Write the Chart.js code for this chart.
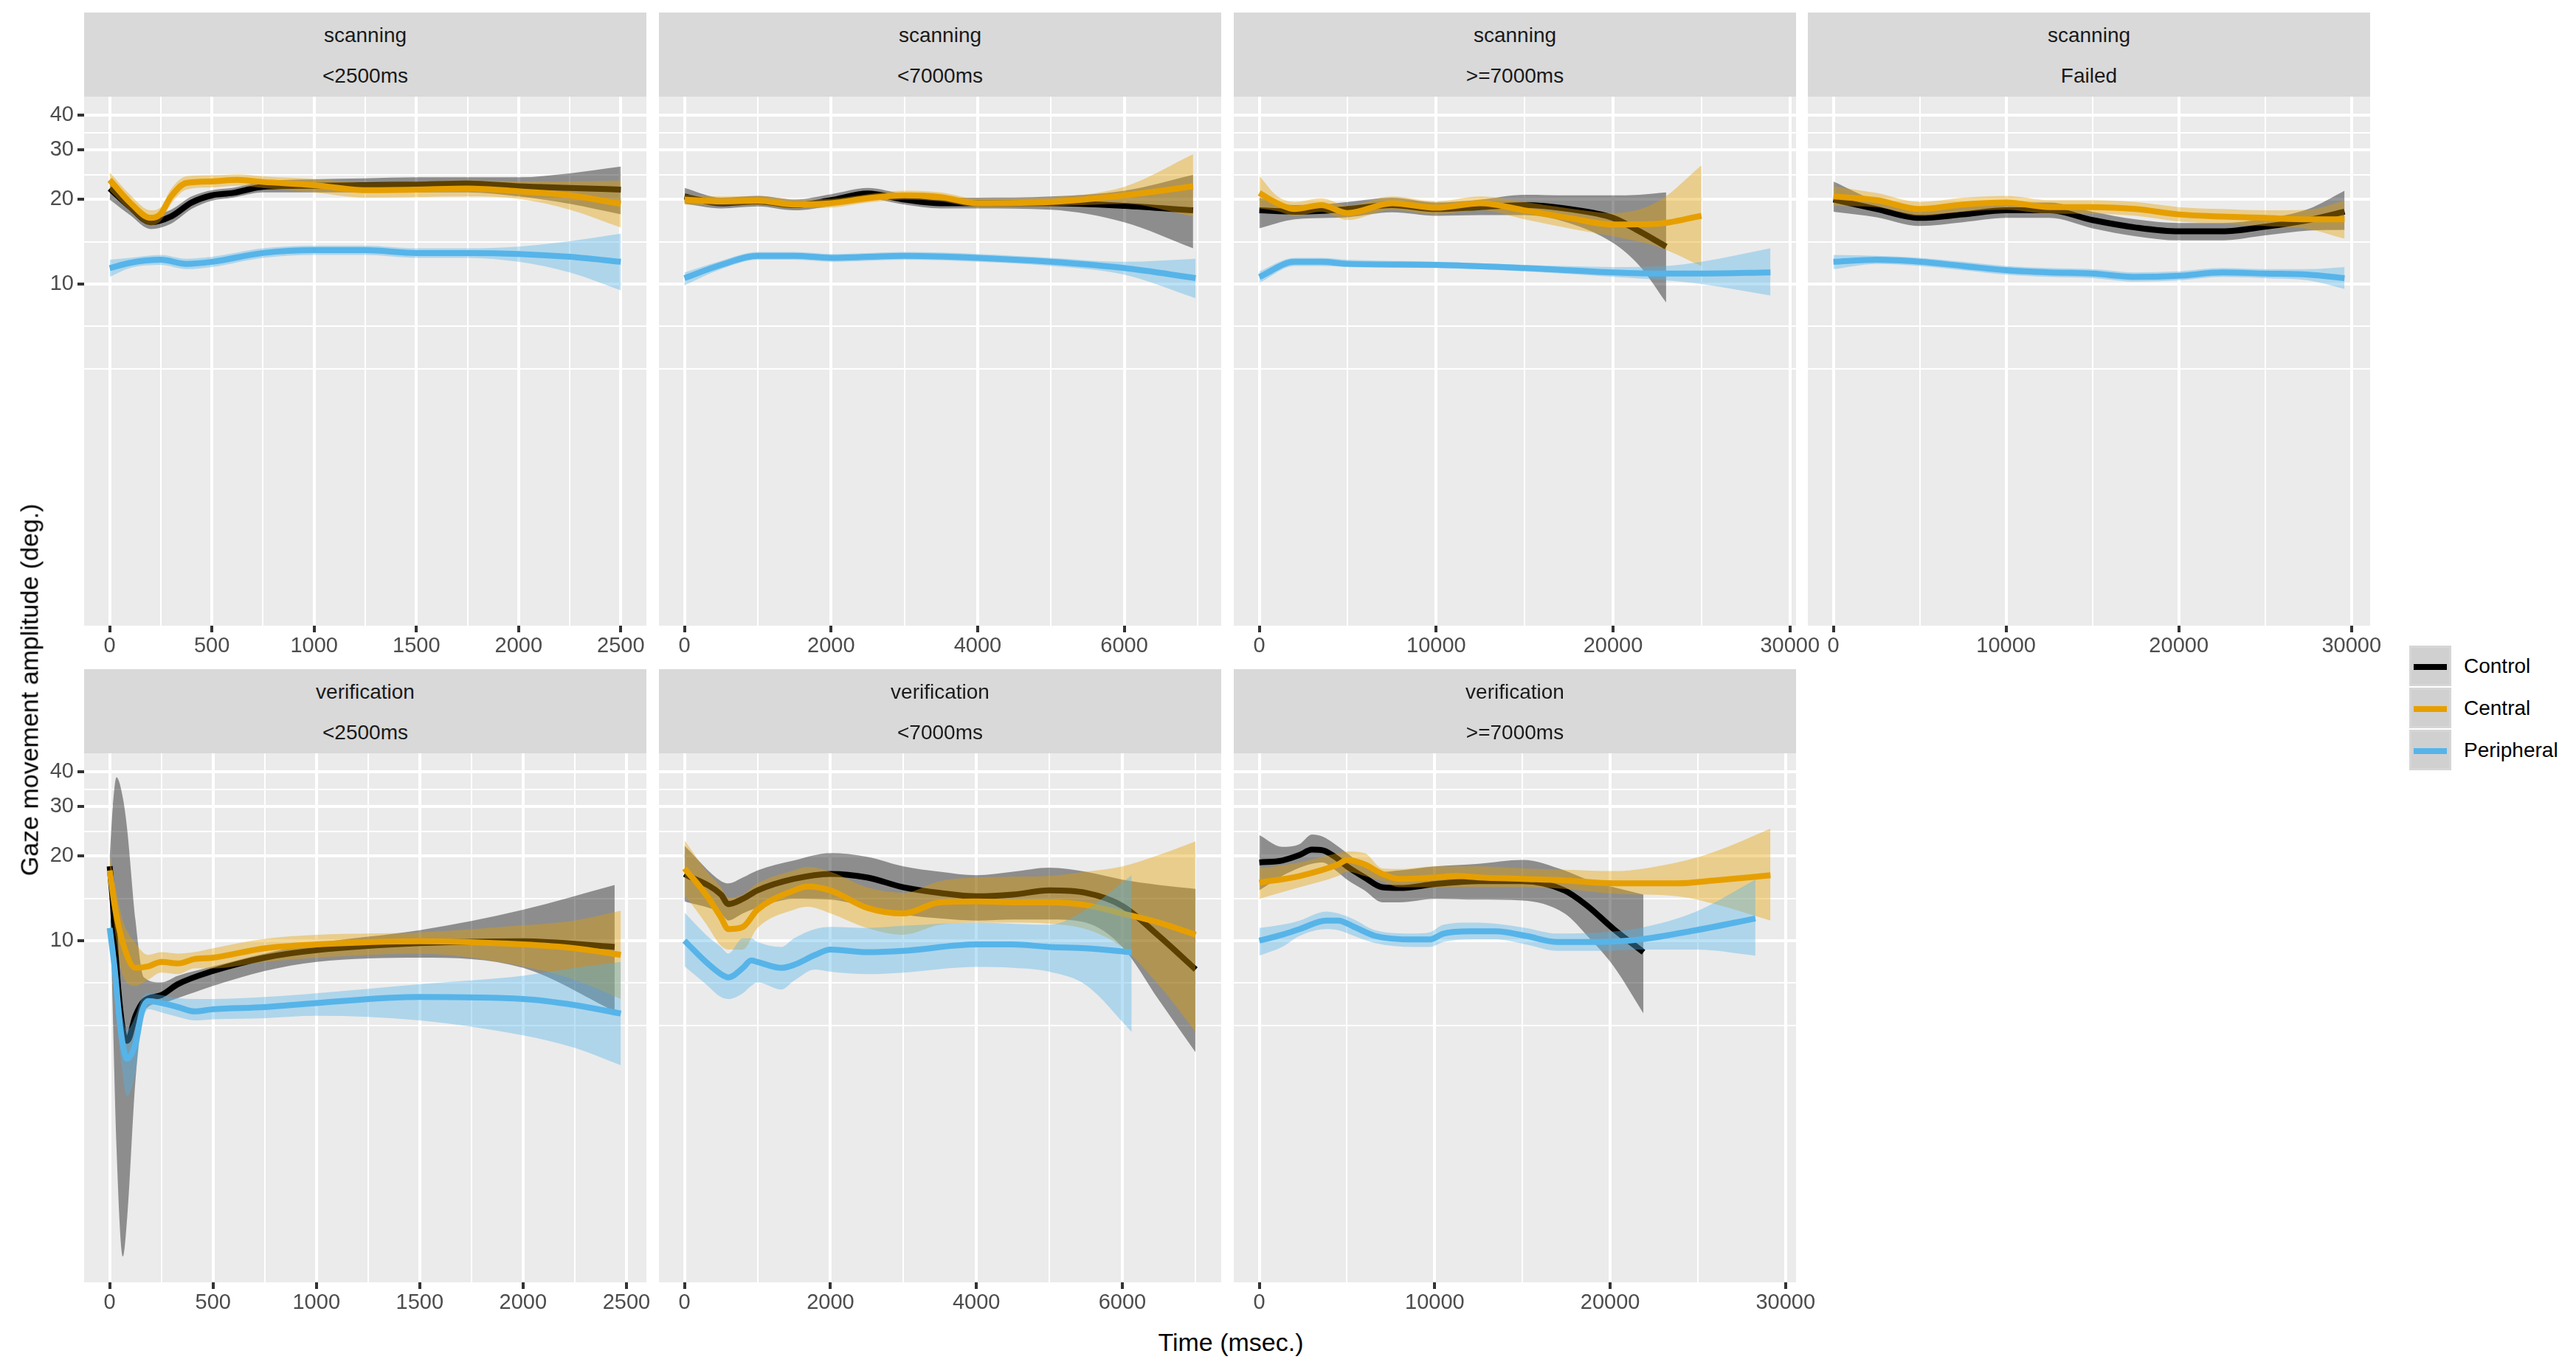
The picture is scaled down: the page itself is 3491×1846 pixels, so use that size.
<!DOCTYPE html>
<html>
<head>
<meta charset="utf-8">
<script src="https://cdn.jsdelivr.net/npm/chart.js@4.4.1/dist/chart.umd.min.js"></script>
<style>
  body { margin: 0; background: #fff; font-family: "Liberation Sans", Arial, sans-serif; }
  #fig { position: relative; width: 3491px; height: 1846px; overflow: hidden; background: #fff; }
  .strip { position: absolute; background: #d9d9d9; color: #1a1a1a; font-size: 28px; }
  .strip div { position: absolute; left: 0; right: 0; text-align: center; line-height: 28px; }
  .panel { position: absolute; }
  .title { position: absolute; color: #000; font-size: 34px; white-space: nowrap; }
  .key { position: absolute; left: 3265px; width: 57px; height: 55px; background: #d0d0d0; box-sizing: border-box; border: 3px solid #d6d6d6; }
  .key span { position: absolute; left: 3px; right: 3px; top: 22px; height: 8px; }
  .klab { position: absolute; left: 3339px; font-size: 28px; line-height: 28px; color: #000; }
</style>
</head>
<body>
<div id="fig"></div>
<script>
// --- gemeinsame Achsen ---
const yMajor = [10, 20, 30, 40];
const yMinor = [5, 7.07, 14.14, 24.49, 34.64];
const xMajorShort = [0, 500, 1000, 1500, 2000, 2500];
const xMinorShort = [250, 750, 1250, 1750, 2250];
const xMajorMid = [0, 2000, 4000, 6000];
const xMinorMid = [1000, 3000, 5000, 7000];
const xMajorLong = [0, 10000, 20000, 30000];
const xMinorLong = [5000, 15000, 25000];
const groupNames = ['Control', 'Central', 'Peripheral'];

// --- scanning <2500ms ---
const s25CtrlT = [0, 100, 200, 300, 400, 500, 600, 750, 1000, 1250, 1500, 1750, 2000, 2250, 2500];
const s25CtrlFit = [21.9, 18.8, 16.6, 17.4, 19.5, 20.7, 21.1, 22.2, 22.4, 22.5, 22.6, 22.8, 22.3, 22.0, 21.7];
const s25CtrlLo = [20.0, 17.6, 15.7, 16.4, 18.5, 19.8, 20.3, 21.2, 21.2, 21.2, 21.2, 21.2, 20.5, 19.3, 17.7];
const s25CtrlHi = [23.6, 20.0, 17.6, 18.4, 20.5, 21.6, 22.0, 23.2, 23.6, 23.8, 24.0, 24.0, 24.0, 24.8, 26.2];
const s25CentT = [0, 100, 200, 250, 300, 375, 500, 625, 750, 1000, 1250, 1500, 1750, 2000, 2250, 2500];
const s25CentFit = [23.5, 19.5, 17.2, 17.8, 20.5, 22.9, 23.2, 23.5, 23.1, 22.5, 21.6, 21.7, 21.9, 21.4, 20.7, 19.3];
const s25CentLo = [21.5, 18.2, 16.2, 16.8, 19.3, 21.7, 22.1, 22.4, 22.0, 21.2, 20.3, 20.4, 20.5, 20.1, 18.4, 15.9];
const s25CentHi = [25.0, 20.8, 18.3, 18.8, 21.8, 24.2, 24.4, 24.6, 24.2, 23.7, 23.0, 23.2, 23.4, 23.2, 23.2, 23.4];
const s25PeriT = [0, 100, 250, 375, 500, 750, 1000, 1250, 1500, 1750, 2000, 2250, 2500];
const s25PeriFit = [11.4, 11.9, 12.2, 11.8, 12.0, 12.9, 13.2, 13.2, 12.9, 12.9, 12.8, 12.5, 12.0];
const s25PeriLo = [10.6, 11.4, 11.7, 11.3, 11.5, 12.4, 12.7, 12.7, 12.4, 12.4, 12.0, 11.0, 9.5];
const s25PeriHi = [12.2, 12.4, 12.7, 12.3, 12.5, 13.4, 13.7, 13.7, 13.4, 13.4, 13.6, 14.2, 15.1];

// --- scanning <7000ms ---
const s70T = [0, 500, 1000, 1500, 2000, 2500, 3000, 3500, 4000, 5000, 6000, 6940];
const s70CtrlFit = [20.5, 19.4, 19.7, 19.1, 19.9, 21.0, 20.0, 19.4, 19.4, 19.4, 19.0, 18.3];
const s70CtrlLo = [19.3, 18.6, 18.9, 18.3, 19.0, 20.1, 19.2, 18.6, 18.6, 18.4, 16.6, 13.4];
const s70CtrlHi = [22.0, 20.3, 20.6, 20.0, 20.9, 22.0, 20.9, 20.3, 20.3, 20.5, 21.5, 24.5];
const s70CentFit = [20.0, 19.7, 19.8, 19.2, 19.4, 20.2, 20.7, 20.4, 19.4, 19.6, 20.7, 22.3];
const s70CentLo = [19.2, 19.0, 19.1, 18.6, 18.7, 19.5, 20.0, 19.7, 18.8, 18.9, 19.3, 17.4];
const s70CentHi = [20.9, 20.5, 20.6, 20.0, 20.1, 20.9, 21.5, 21.2, 20.1, 20.4, 22.2, 29.0];
const s70PeriT = [0, 500, 1000, 1500, 2000, 2500, 3000, 4000, 5000, 6000, 6975];
const s70PeriFit = [10.5, 11.7, 12.6, 12.6, 12.4, 12.5, 12.6, 12.4, 12.0, 11.4, 10.5];
const s70PeriLo = [9.9, 11.3, 12.2, 12.2, 12.0, 12.1, 12.2, 12.0, 11.6, 10.8, 8.9];
const s70PeriHi = [11.0, 12.1, 13.0, 13.0, 12.8, 12.9, 13.0, 12.8, 12.4, 12.0, 12.3];

// --- scanning >=7000ms ---
const s7pCtrlT = [0, 2000, 4000, 5000, 7500, 10000, 12500, 15000, 17500, 20000, 21500, 23000];
const s7pCtrlFit = [18.3, 18.1, 18.3, 18.5, 19.1, 18.5, 18.8, 19.1, 18.5, 17.2, 15.4, 13.6];
const s7pCtrlLo = [15.8, 17.0, 17.2, 17.3, 18.0, 17.5, 17.6, 17.6, 16.5, 14.0, 11.6, 8.6];
const s7pCtrlHi = [20.3, 19.1, 19.3, 19.6, 20.3, 19.5, 20.0, 20.8, 20.7, 20.7, 20.8, 21.2];
const s7pCentT = [0, 1000, 2000, 3500, 5000, 7500, 10000, 12500, 15000, 17500, 20000, 22500, 25000];
const s7pCentFit = [21.1, 19.4, 18.5, 19.1, 17.9, 19.4, 18.7, 19.4, 18.3, 17.2, 16.3, 16.4, 17.5];
const s7pCentLo = [18.6, 18.2, 17.5, 18.1, 16.9, 18.4, 17.7, 18.3, 17.0, 15.8, 14.8, 13.6, 11.6];
const s7pCentHi = [24.3, 20.6, 19.6, 20.2, 19.0, 20.5, 19.7, 20.5, 19.6, 18.6, 17.9, 19.6, 26.5];
const s7pPeriT = [0, 2000, 3500, 5000, 10000, 15000, 20000, 23000, 25000, 28900];
const s7pPeriFit = [10.6, 12.0, 12.0, 11.8, 11.7, 11.4, 11.0, 10.9, 10.9, 11.0];
const s7pPeriLo = [10.1, 11.6, 11.6, 11.5, 11.4, 11.1, 10.6, 10.3, 10.0, 9.1];
const s7pPeriHi = [11.1, 12.4, 12.4, 12.2, 12.0, 11.7, 11.5, 11.6, 12.0, 13.4];

// --- scanning Failed ---
const sFT = [0, 2500, 5000, 7500, 10000, 12500, 15000, 17500, 20000, 22500, 25000, 27500, 29600];
const sFCtrlFit = [20.0, 18.5, 17.2, 17.7, 18.3, 18.3, 16.9, 15.9, 15.4, 15.4, 16.0, 16.9, 18.1];
const sFCtrlLo = [18.1, 17.3, 16.1, 16.6, 17.2, 17.2, 15.8, 14.8, 14.3, 14.3, 14.9, 15.5, 15.6];
const sFCtrlHi = [23.2, 19.8, 18.4, 18.9, 19.5, 19.5, 18.1, 17.0, 16.5, 16.5, 17.1, 18.5, 21.5];
const sFCentFit = [20.5, 19.9, 18.5, 19.2, 19.5, 18.8, 18.8, 18.5, 17.7, 17.4, 17.2, 17.0, 17.0];
const sFCentLo = [19.0, 18.8, 17.5, 18.1, 18.4, 17.8, 17.8, 17.5, 16.7, 16.4, 16.1, 15.7, 14.5];
const sFCentHi = [22.3, 21.1, 19.6, 20.3, 20.6, 19.9, 19.9, 19.6, 18.8, 18.5, 18.3, 18.4, 19.8];
const sFPeriFit = [12.0, 12.2, 12.0, 11.6, 11.2, 11.0, 10.9, 10.6, 10.7, 11.0, 10.9, 10.8, 10.5];
const sFPeriLo = [11.3, 11.8, 11.6, 11.2, 10.8, 10.6, 10.5, 10.2, 10.3, 10.6, 10.5, 10.3, 9.6];
const sFPeriHi = [12.7, 12.6, 12.4, 12.0, 11.6, 11.4, 11.3, 11.0, 11.1, 11.4, 11.3, 11.3, 11.5];

// --- verification <2500ms ---
const v25CtrlT = [0, 15, 33, 64, 85, 125, 166, 250, 330, 500, 750, 1000, 1500, 2000, 2443];
const v25CtrlFit = [18.4, 13.7, 8.1, 4.8, 4.4, 5.4, 6.1, 6.4, 7.0, 7.8, 8.7, 9.25, 9.8, 9.95, 9.5];
const v25CtrlLo = [17.1, 5.6, 1.83, 0.75, 1.04, 3.2, 5.6, 6.0, 6.25, 6.9, 7.8, 8.4, 8.7, 8.0, 5.6];
const v25CtrlHi = [19.9, 29.9, 38.2, 32.2, 24.8, 11.8, 7.4, 7.1, 7.5, 8.1, 9.0, 9.8, 10.9, 12.9, 15.8];
const v25CentT = [0, 25, 64, 125, 185, 250, 330, 410, 500, 750, 1000, 1500, 2000, 2250, 2473];
const v25CentFit = [17.8, 13.2, 9.8, 8.0, 8.1, 8.4, 8.3, 8.6, 8.7, 9.4, 9.7, 9.96, 9.7, 9.4, 8.9];
const v25CentLo = [15.9, 10.9, 7.5, 6.9, 7.25, 7.7, 7.6, 7.97, 7.97, 8.4, 8.7, 9.0, 8.1, 7.25, 6.2];
const v25CentHi = [19.9, 15.9, 11.8, 9.8, 8.9, 9.1, 9.0, 9.1, 9.4, 10.15, 10.5, 10.7, 11.35, 11.8, 12.8];
const v25PeriT = [0, 23, 53, 84, 125, 156, 187, 250, 330, 410, 500, 750, 1000, 1500, 2000, 2250, 2473];
const v25PeriFit = [11.1, 8.1, 4.8, 3.8, 4.3, 5.6, 6.1, 6.0, 5.8, 5.6, 5.7, 5.8, 6.0, 6.3, 6.2, 5.9, 5.5];
const v25PeriLo = [10.15, 6.5, 3.85, 2.8, 3.4, 5.0, 5.7, 5.55, 5.35, 5.2, 5.25, 5.3, 5.4, 5.2, 4.6, 4.15, 3.6];
const v25PeriHi = [12.2, 9.8, 6.0, 4.8, 5.4, 6.25, 6.5, 6.4, 6.25, 6.2, 6.2, 6.3, 6.5, 7.0, 7.5, 8.0, 8.4];

// --- verification <7000ms ---
const v70CtrlT = [0, 500, 600, 800, 1000, 1500, 2000, 2500, 3000, 3500, 4000, 4500, 5000, 5500, 6000, 6500, 7005];
const v70CtrlFit = [17.3, 14.6, 13.5, 14.1, 15.1, 16.6, 17.3, 16.8, 15.5, 14.8, 14.4, 14.6, 15.1, 14.8, 13.3, 10.4, 7.9];
const v70CtrlLo = [13.8, 12.5, 11.8, 12.5, 13.1, 14.1, 14.0, 13.2, 12.4, 12.0, 11.8, 11.9, 11.9, 11.6, 9.5, 6.15, 4.0];
const v70CtrlHi = [21.8, 16.3, 16.0, 16.8, 17.8, 19.3, 20.5, 19.9, 18.4, 17.6, 17.1, 17.6, 18.2, 17.6, 16.5, 15.8, 15.3];
const v70CentT = [0, 294, 500, 600, 800, 1000, 1500, 1690, 2000, 2500, 3000, 3500, 4000, 4500, 5000, 5500, 6000, 6500, 7005];
const v70CentFit = [18.1, 14.6, 12.1, 11.0, 11.2, 12.9, 15.1, 15.6, 15.1, 13.1, 12.5, 13.7, 13.8, 13.7, 13.7, 13.4, 12.5, 11.6, 10.5];
const v70CentLo = [14.6, 11.5, 9.6, 9.3, 9.3, 11.1, 12.9, 13.2, 12.5, 11.1, 10.5, 11.4, 11.6, 11.6, 11.5, 11.0, 9.47, 6.95, 4.73];
const v70CentHi = [22.8, 17.8, 15.5, 14.2, 14.6, 16.0, 17.8, 18.3, 17.6, 15.5, 14.8, 16.3, 16.8, 16.9, 17.0, 17.6, 18.4, 20.2, 22.6];
const v70PeriT = [0, 294, 500, 600, 800, 914, 1000, 1327, 1500, 1790, 2000, 2500, 3000, 4000, 4500, 5000, 5500, 6128];
const v70PeriFit = [10.0, 8.4, 7.6, 7.4, 8.0, 8.5, 8.4, 8.0, 8.2, 8.9, 9.3, 9.1, 9.2, 9.7, 9.7, 9.5, 9.4, 9.1];
const v70PeriLo = [8.1, 7.0, 6.3, 6.2, 6.5, 6.9, 7.1, 6.7, 7.2, 7.9, 7.75, 7.6, 7.7, 8.06, 8.0, 7.75, 6.95, 4.73];
const v70PeriHi = [12.6, 10.5, 9.5, 9.0, 10.2, 10.2, 9.9, 9.5, 10.2, 11.0, 11.2, 11.1, 11.3, 11.6, 11.5, 11.4, 12.9, 17.1];

// --- verification >=7000ms ---
const v7pCtrlT = [0, 1300, 2300, 3000, 3600, 4300, 5000, 6000, 7000, 8000, 10000, 12500, 15000, 17400, 18700, 20200, 21900];
const v7pCtrlFit = [19.0, 19.3, 20.2, 21.1, 21.0, 19.9, 18.4, 16.8, 15.5, 15.4, 15.9, 16.3, 16.3, 15.1, 13.3, 11.0, 9.1];
const v7pCtrlLo = [15.1, 17.0, 18.2, 18.8, 19.0, 17.9, 16.5, 15.1, 13.7, 13.7, 14.1, 14.0, 13.9, 12.5, 10.4, 8.1, 5.5];
const v7pCtrlHi = [23.8, 21.6, 22.1, 23.9, 23.5, 22.1, 20.5, 18.4, 17.6, 17.8, 18.4, 18.8, 19.4, 17.8, 16.5, 15.5, 14.6];
const v7pCentT = [0, 2300, 4500, 5000, 6000, 7000, 8000, 10000, 11200, 12500, 15000, 17400, 20200, 23800, 26000, 29140];
const v7pCentFit = [16.1, 17.0, 18.7, 19.4, 18.7, 17.3, 16.6, 16.8, 17.0, 16.8, 16.6, 16.4, 16.0, 16.0, 16.4, 17.1];
const v7pCentLo = [14.1, 15.5, 17.0, 17.6, 17.0, 16.3, 15.5, 15.5, 15.5, 15.5, 15.5, 15.3, 14.7, 14.4, 13.5, 11.8];
const v7pCentHi = [18.1, 19.0, 20.5, 20.8, 20.5, 18.1, 18.0, 18.4, 18.4, 18.4, 18.1, 17.9, 17.7, 19.0, 20.8, 25.1];
const v7pPeriT = [0, 1300, 2300, 3800, 4500, 5400, 6600, 8800, 9700, 10500, 12000, 13500, 15200, 17000, 19500, 21700, 24900, 28280];
const v7pPeriFit = [10.0, 10.5, 11.0, 11.8, 11.8, 11.2, 10.4, 10.1, 10.1, 10.6, 10.8, 10.8, 10.4, 9.9, 9.9, 10.1, 10.9, 12.0];
const v7pPeriLo = [8.85, 9.5, 10.4, 11.0, 10.9, 10.4, 9.8, 9.5, 9.5, 9.9, 10.1, 10.1, 9.7, 9.2, 9.2, 9.3, 9.3, 8.85];
const v7pPeriHi = [11.1, 11.4, 11.8, 12.7, 12.5, 11.9, 10.9, 10.6, 10.7, 11.4, 11.6, 11.5, 11.1, 10.6, 10.7, 11.1, 12.7, 16.5];

// Panels: [Zeit, Fit, unten, oben] je Gruppe
const panels = [
  { row: 0, col: 0, strip: ['scanning', '<2500ms'], major: xMajorShort, minor: xMinorShort,
    groups: [[s25CtrlT, s25CtrlFit, s25CtrlLo, s25CtrlHi], [s25CentT, s25CentFit, s25CentLo, s25CentHi], [s25PeriT, s25PeriFit, s25PeriLo, s25PeriHi]] },
  { row: 0, col: 1, strip: ['scanning', '<7000ms'], major: xMajorMid, minor: xMinorMid,
    groups: [[s70T, s70CtrlFit, s70CtrlLo, s70CtrlHi], [s70T, s70CentFit, s70CentLo, s70CentHi], [s70PeriT, s70PeriFit, s70PeriLo, s70PeriHi]] },
  { row: 0, col: 2, strip: ['scanning', '>=7000ms'], major: xMajorLong, minor: xMinorLong,
    groups: [[s7pCtrlT, s7pCtrlFit, s7pCtrlLo, s7pCtrlHi], [s7pCentT, s7pCentFit, s7pCentLo, s7pCentHi], [s7pPeriT, s7pPeriFit, s7pPeriLo, s7pPeriHi]] },
  { row: 0, col: 3, strip: ['scanning', 'Failed'], major: xMajorLong, minor: xMinorLong,
    groups: [[sFT, sFCtrlFit, sFCtrlLo, sFCtrlHi], [sFT, sFCentFit, sFCentLo, sFCentHi], [sFT, sFPeriFit, sFPeriLo, sFPeriHi]] },
  { row: 1, col: 0, strip: ['verification', '<2500ms'], major: xMajorShort, minor: xMinorShort,
    groups: [[v25CtrlT, v25CtrlFit, v25CtrlLo, v25CtrlHi], [v25CentT, v25CentFit, v25CentLo, v25CentHi], [v25PeriT, v25PeriFit, v25PeriLo, v25PeriHi]] },
  { row: 1, col: 1, strip: ['verification', '<7000ms'], major: xMajorMid, minor: xMinorMid,
    groups: [[v70CtrlT, v70CtrlFit, v70CtrlLo, v70CtrlHi], [v70CentT, v70CentFit, v70CentLo, v70CentHi], [v70PeriT, v70PeriFit, v70PeriLo, v70PeriHi]] },
  { row: 1, col: 2, strip: ['verification', '>=7000ms'], major: xMajorLong, minor: xMinorLong,
    groups: [[v7pCtrlT, v7pCtrlFit, v7pCtrlLo, v7pCtrlHi], [v7pCentT, v7pCentFit, v7pCentLo, v7pCentHi], [v7pPeriT, v7pPeriFit, v7pPeriLo, v7pPeriHi]] }
];

// Layout (Pixel)
const colLeft = [114, 893, 1672, 2450];
const rowTop = [131, 1021];
const panelW = 762, panelH = 717, stripH = 114;
const yAxisW = 114, xAxisH = 62, padR = 50;
const yMin = 0.607, yMax = 46.5;
const lineColors = ['#000000', '#E69F00', '#56B4E9'];
const fillColors = ['rgba(0,0,0,0.4)', 'rgba(230,159,0,0.4)', 'rgba(86,180,233,0.4)'];
const fontFam = '"Liberation Sans", Arial, sans-serif';
const gridMajorW = 4, gridMinorW = 2, smoothW = 8;

Chart.defaults.font.family = fontFam;

const panelBg = {
  id: 'panelBg',
  beforeDraw(chart) {
    const a = chart.chartArea, c = chart.ctx;
    c.save();
    c.fillStyle = '#ebebeb';
    c.fillRect(a.left, a.top, a.right - a.left, a.bottom - a.top);
    c.restore();
  }
};

const fig = document.getElementById('fig');

function pts(t, v) {
  return t.map((x, i) => ({ x: x, y: v[i] }));
}

panels.forEach(p => {
  const left = colLeft[p.col], top = rowTop[p.row];
  const isLeft = p.col === 0;

  // Streifen oben
  const strip = document.createElement('div');
  strip.className = 'strip';
  strip.style.left = left + 'px';
  strip.style.top = (top - stripH) + 'px';
  strip.style.width = panelW + 'px';
  strip.style.height = stripH + 'px';
  strip.innerHTML = '<div style="top:17px"></div><div style="top:72px"></div>';
  strip.children[0].textContent = p.strip[0];
  strip.children[1].textContent = p.strip[1];
  fig.appendChild(strip);

  const yw = isLeft ? yAxisW : 0;
  const box = document.createElement('div');
  box.className = 'panel';
  box.style.left = (left - yw) + 'px';
  box.style.top = top + 'px';
  box.style.width = (yw + panelW + padR) + 'px';
  box.style.height = (panelH + xAxisH) + 'px';
  const cv = document.createElement('canvas');
  box.appendChild(cv);
  fig.appendChild(box);

  const tMax = Math.max(...p.groups.map(g => Math.max(...g[0])));
  const datasets = [];
  p.groups.forEach((g, i) => {
    const base = 10 * (3 - i);
    datasets.push({ label: groupNames[i] + ' lo', data: pts(g[0], g[2]), borderWidth: 0, borderColor: 'transparent',
      pointRadius: 0, fill: false, cubicInterpolationMode: 'monotone', order: base + 2 });
    datasets.push({ label: groupNames[i] + ' band', data: pts(g[0], g[3]), borderWidth: 0, borderColor: 'transparent',
      pointRadius: 0, fill: '-1', backgroundColor: fillColors[i], cubicInterpolationMode: 'monotone', order: base + 1 });
    datasets.push({ label: groupNames[i], data: pts(g[0], g[1]), borderColor: lineColors[i], borderWidth: smoothW,
      borderCapStyle: 'butt', pointRadius: 0, fill: false, cubicInterpolationMode: 'monotone', order: base });
  });

  const xAll = p.major.concat(p.minor);
  const yAll = yMajor.concat(yMinor);

  new Chart(cv, {
    type: 'line',
    data: { datasets: datasets },
    plugins: [panelBg],
    options: {
      responsive: true,
      maintainAspectRatio: false,
      animation: false,
      layout: { padding: { left: 0, right: padR, top: 0, bottom: 0 } },
      plugins: { legend: { display: false }, tooltip: { enabled: false } },
      scales: {
        x: {
          type: 'linear',
          bounds: 'data',
          min: -0.05 * tMax,
          max: 1.05 * tMax,
          afterBuildTicks: s => {
            s.ticks = xAll.filter(v => v >= s.min && v <= s.max).sort((a, b) => a - b).map(v => ({ value: v }));
          },
          afterFit: s => { s.height = xAxisH; s.paddingLeft = 0; s.paddingRight = 0; },
          grid: {
            color: '#ffffff',
            lineWidth: c => p.major.includes(c.tick.value) ? gridMajorW : gridMinorW,
            tickColor: c => p.major.includes(c.tick.value) ? '#333333' : 'rgba(0,0,0,0)',
            tickWidth: gridMajorW,
            tickLength: 9
          },
          border: { display: false },
          ticks: {
            autoSkip: false, maxRotation: 0, padding: 2, color: '#4d4d4d',
            font: { family: fontFam, size: 29 },
            callback: v => p.major.includes(v) ? String(v) : ''
          }
        },
        y: {
          type: 'logarithmic',
          bounds: 'data',
          min: yMin,
          max: yMax,
          afterBuildTicks: s => {
            s.ticks = yAll.slice().sort((a, b) => a - b).map(v => ({ value: v }));
          },
          afterFit: s => { s.width = yw; s.paddingTop = 0; s.paddingBottom = 0; },
          grid: {
            color: '#ffffff',
            lineWidth: c => yMajor.includes(c.tick.value) ? gridMajorW : gridMinorW,
            drawTicks: isLeft,
            tickColor: c => yMajor.includes(c.tick.value) ? '#333333' : 'rgba(0,0,0,0)',
            tickWidth: gridMajorW,
            tickLength: 9
          },
          border: { display: false },
          ticks: {
            display: isLeft, autoSkip: false, padding: 5, color: '#4d4d4d',
            font: { family: fontFam, size: 29 },
            callback: v => yMajor.includes(v) ? String(v) : ''
          }
        }
      }
    }
  });
});

// Achsentitel
const xt = document.createElement('div');
xt.className = 'title';
xt.textContent = 'Time (msec.)';
xt.style.left = '1668px';
xt.style.top = '1800px';
xt.style.transform = 'translateX(-50%)';
fig.appendChild(xt);

const yt = document.createElement('div');
yt.className = 'title';
yt.textContent = 'Gaze movement amplitude (deg.)';
yt.style.left = '40px';
yt.style.top = '935px';
yt.style.transform = 'translate(-50%, -50%) rotate(-90deg)';
fig.appendChild(yt);

// Legende
const keyTops = [875, 932, 989];
groupNames.forEach((name, i) => {
  const k = document.createElement('div');
  k.className = 'key';
  k.style.top = keyTops[i] + 'px';
  k.innerHTML = '<span></span>';
  k.firstChild.style.background = lineColors[i];
  fig.appendChild(k);
  const l = document.createElement('div');
  l.className = 'klab';
  l.style.top = (keyTops[i] + 14) + 'px';
  l.textContent = name;
  fig.appendChild(l);
});
</script>
</body>
</html>
